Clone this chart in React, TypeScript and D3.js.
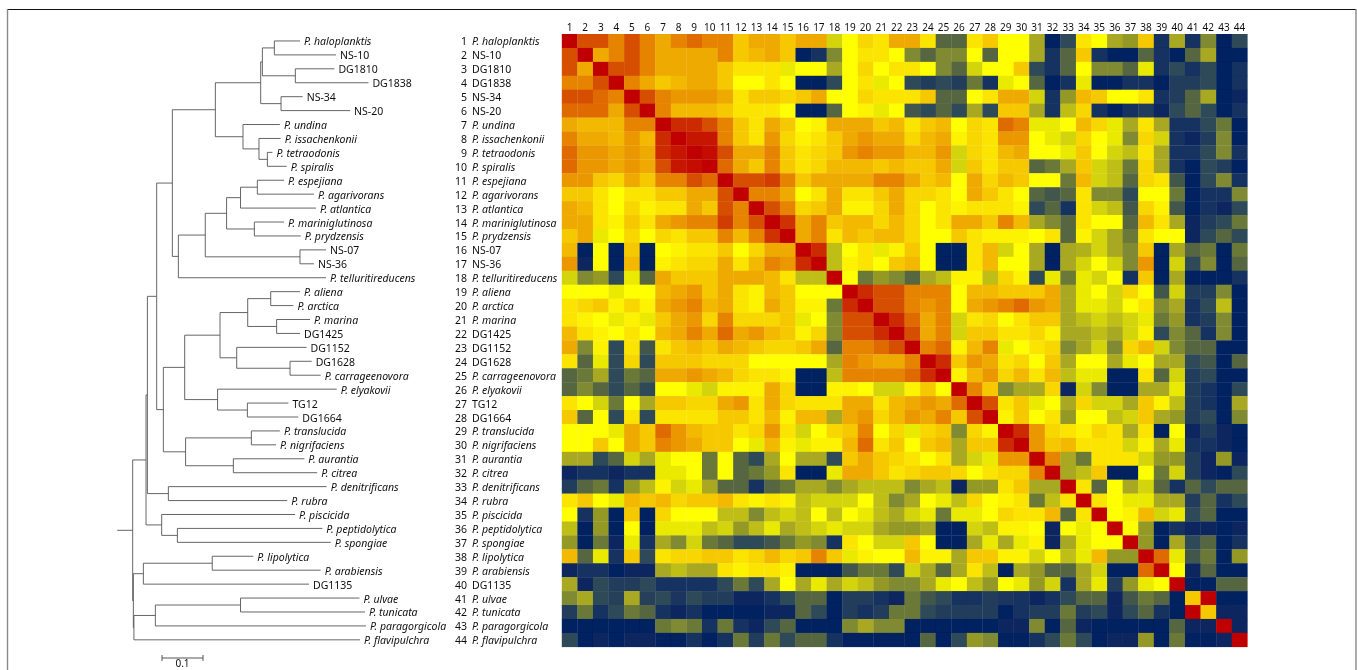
import React from "react";
import * as d3 from "d3";

const W = 1357, H = 670;

const strainNames = ["P. haloplanktis","NS-10","DG1810","DG1838","NS-34","NS-20","P. undina","P. issachenkonii","P. tetraodonis","P. spiralis","P. espejiana","P. agarivorans","P. atlantica","P. mariniglutinosa","P. prydzensis","NS-07","NS-36","P. telluritireducens","P. aliena","P. arctica","P. marina","DG1425","DG1152","DG1628","P. carrageenovora","P. elyakovii","TG12","DG1664","P. translucida","P. nigrifaciens","P. aurantia","P. citrea","P. denitrificans","P. rubra","P. piscicida","P. peptidolytica","P. spongiae","P. lipolytica","P. arabiensis","DG1135","P. ulvae","P. tunicata","P. paragorgicola","P. flavipulchra"];

// similarity level of every cell, row by row (0 = lowest, 14 = identical)
const similarity: number[][] = [
[14,12,12,11,12,11,10,11,11.5,11,11,9,10,10,9,10,10,6,7,8.5,8,10, 10,8,3,3,8,9,7,7,5,0,2,8,7,5,4.5,9,1,5,1,4,0,2],
[12,14,10,11,12,11,10,10,10,10,11,9,9.5,10,9,0,1,4,7,8,8,7, 4,3,4,4,7,3,7,7,5,1,3,9,1,0,0,3,1,0,3,5,0,0],
[12,10,14,12,12,11,10,10,10,10,9,8,8,8,6.5,7,7,5,7,8.5,7,8, 8,7,4,3,6,7,7,9,2,1,3,7,4,4,3,6.5,1,2,1,2,0,1],
[11,11,12,14,11,10,9,9.5,10,10,9,7,7,8,7,0,0,2,7,8,6.5,7, 2,1.5,2,1.5,3.5,1,6.5,7,3,0,1,6.5,0,0,1,1,0,1.5,1.5,2,0,1],
[12,12,11.5,11,14,12,11,10.5,10.5,10.5,10,8,9,9,8.5,9,10,7,7,8.5,8,8, 8,9,3,3,7,8,10,10,6,1,4.5,9.5,9,7,7,8,1,1.5,3,5,0,0.5],
[11.5,11.5,11.5,10,12,14,11,9.5,9.5,9.5,9,8,8,8,7,0,0,3,7,7.5,6.5,7, 2.5,2,3,2,5,2,9,9,5,1,5.5,8.5,1,0,1,1.5,0.5,2,3,2,0,1],
[10,9.5,9.5,9.5,11,11,14,13,13,12,11,9,8,10,9,7,7.5,10,10,10,9,9.5, 8,9,9.5,7,8.5,8,11.5,11,6.5,6.5,7,9.5,8.5,6.5,5,8,5,1,1,2,3.5,0],
[11,10,10,9.5,10.5,9.5,13,14,13.5,13.5,11,9,8,10.5,8.5,7.5,8,9,10,10.5,10,10, 8.5,9.5,10,7.5,8.5,8,10.5,10.5,7,6.5,6,8.5,7,6.5,4,8.5,6,1,0.5,1.5,4,0],
[11.5,10.5,10.5,10,10.5,10,13,13.5,14,13.7,12,10,10,11,9,8,8.5,9,10.5,11,10.5,10.5, 9.5,9.5,10.5,6,8.5,8,9.5,10,7,7,6.5,9,7,6,5.5,8,5,1,1,2,4,1],
[11.5,10.5,10.5,10,10.5,10,12,13.5,13.7,14,11.5,10,9,11,9,8,8.5,9.5,9.5,9.5,9,9.5, 9,9,10,6,9,8,9,9,3,3.5,5,9,6,5.5,3.5,8.5,5,1,0,2,1.5,0],
[10.5,10.5,9,8.5,10,9,11,11,12,11.5,14,12,12,12.5,11,9,10,10,10,10,11,11, 10,9,9.5,7,10,8.5,9.5,9,7,7,3.5,9.5,6,5.5,3,8.5,8,2.5,0,2,4,1],
[9,9,8,7,8,8,9,9,10,10,12,14,11,11,10,7,8,10,8,8,9,10, 8.5,8.5,8,7,10,9,8,7,3,2.5,3,8,4,4,2,7,7,3.5,0,1,1,4],
[10,9.5,8,7,8.5,7.5,8,8,10,9,12,11,14,12,11,8.5,9,10,7.5,7.5,8.5,10, 8.5,7,8,7.5,8,8,8,7.5,2,3,1,8,6,5.5,2.5,8.5,7.5,2.5,0,1,0.5,2],
[10,10,8,7.5,9,8,10,10.5,11,11,12.5,11,12,14,12.8,10,11,9,9.5,9.5,8.5,9.5, 8.5,7,8,10,10,9,11,9.5,5,4,3,8,7,7,3,9.5,8,5,0.5,1.5,2,3.5],
[9,10,6.5,7,8.5,7,8.5,8,9,9,11,9.5,11,12.8,14,10,11,8,9.5,9,9.5,9.5, 8.5,7,7,9,8,7.5,7.5,7.5,7,8,3,7.5,6,5,3.5,8,7,7,0.5,2,3,2],
[9.5,0,7,0,9,0,7,7.5,8,8,9,7,8.5,10,10,14,13,5.5,7,8,6.5,7.5, 9,7,0,0,8,9.5,6,7,5,0,5,5.2,6,5,4,9,0,5,3,3.5,0,3.5],
[10.5,0.5,7,0,9.5,0,7.5,8,8.5,8.5,10,8,9.5,11,10.5,13,14,5.5,7.5,8,7,9, 9.5,7,0,0,8,9.5,7,7,5,0,5,6,7,6,4,10.5,0,6,2,4,0,3],
[6,4,4.5,2,6.5,3,10,9,9,9,10,10,10,9.5,8,5.5,5.5,14,7,3.5,4.5,4, 3,5,5.5,7.5,7.5,5.5,8.5,7.5,2,6.5,3.5,6.5,6,7,1,9,0,5,0,0,0,1],
[7,7,7,6.5,7,7,9.5,10,10.5,9,10,8,7.5,9.5,9,7,7,7,14,13,12,12, 11,11,11,7,9.5,9.5,9,9,9,10,5,6.5,7,6,8.5,7,2.5,6,1.5,1.5,4,0],
[8,8.5,9,7.5,8.5,7.5,10,10.5,11,9.5,10,8,7.5,10,9,7.5,7.5,3.5,13,14,12,12, 11,10.5,11,7,10,10.5,11,11.5,10.5,10,5,6.5,6.5,6,7,8,4,5,1,2,5.5,0],
[8,7.5,7,6.5,7.5,6.5,9,10,10.5,8.5,11,8.5,8.5,8.5,9,6.5,7,4,12,12,14,13, 11.5,10,11,6,8,8.5,7,8,9,9,5,5.5,6,5.5,6,6.5,3.5,4.5,1,1.5,4,0],
[9.5,8,7.5,7,8,7,9.5,10,11,10,11.5,10,10.5,9.5,9,7.5,8.5,4,12,12,13,14, 12,10,11,6,9,9,8,8,8.5,7.5,5,5,5.5,5,6,7.5,2,4,3,1,4,0],
[10,4,7.5,2,8,2.5,8,9,9.5,9,10,9.5,9,8.5,8.5,9,10,3,11,11,11.5,12, 14,11,11.5,7.5,9.5,11,6.5,7,8,8.5,4,5,6,4,8.5,9.5,6,4,3,3,0,0],
[8,3,6.5,2,8.5,2,9,9,9,8.5,8.5,8.5,7,7,7,7,7,5,11,10.5,10,10, 11,14,13,9,10.5,10,8,8.5,7,9,5,7,7,5,6.5,7,5,5,2,2.5,0,3],
[3,3.5,5,2,3.5,3,10,10,10.5,10,9.5,8.5,8,8,7.5,0,0,5.5,11,11,11,11, 11.5,13,14,7.5,9.5,10.5,8.5,9.5,8,9.5,5.5,6.5,6.5,0,0,8,3,6,1.5,2,0,0],
[3,4,3,2,3,2,7,7,6.5,6,7.5,7.5,7.5,10,8.5,0,0,7.5,7.5,7,6,6, 7.5,9,7,14,11,9,4,5,5,8.5,0.5,6,4,0,0,5,5,6.5,1.5,1,0,2],
[8,7,6,3.5,7,5,9,9,8.5,8.5,10,10.5,8,10,8.5,8,8,8,10,10,8,9.5, 10,10.5,10,11.5,14,12,8,9,6.5,7,5,8.5,6,6,5,9,7.5,5.5,1.5,1,0,5],
[9,3,7,2,8,2,8,8,8,8,9,9,8,9.5,7.5,9.5,9.5,5,10,10.5,8.5,9.5, 10.5,10,11,9,12,14,7.5,9,7,8,4.5,7,7,5.5,6,9,5,4.5,1.5,2,0,4],
[7,7,7,6.5,10,9,11.5,10.5,9.5,9,9,8,8.5,10.5,8,6,7,8.5,9,11,7,8.5, 6.5,8.5,9,4,8.5,7.5,14,13,10.5,8.5,8,7.5,8.5,8,5,8,0,7,0.5,1.5,0.5,0],
[7,7,9,7,10,9,11,10.5,10,9,9,7,6.5,9.5,7.5,6.5,7.5,7.5,9.5,11.5,8,9, 7,9,9.5,5,9,9,13,14,10.5,9,9.5,8,8,8,6,7.5,5,6.5,1,1,0.5,0],
[5,5,2,3,6,5,6.5,7,7,3.5,7,3,2,5,7,5,5,2,9,10,9,8.5, 8,7,8,5,6,6.5,10.5,10.5,14,11,5,3.5,8,8,8,6,4.5,4.5,1.5,0.5,4.5,0.5],
[0.5,1,1,0.5,1,1,6.5,6.5,7,3.5,7,3,3.5,4.5,8,0,0,6.5,10,10,9,8, 8.5,9,9,8.5,7,8,8.5,8.5,11,14,5,5.5,9,0,0,7,3.5,6,1.5,0.5,0,2],
[1.5,3,3.5,1,4.5,5.5,7.5,6,6.5,5,3,3,1,3,3.5,5,5,4,5,5.5,5.5,5.5, 4,5,5.5,0.5,4.5,4.5,8,9,5,5,14,8,3,7,5,6,3,1,3,2,3,3],
[8,9,7,6.5,9.5,9,9.5,8.5,9,9,9.5,8,7.5,8,7.5,5.5,6,6,6,7,5.5,4, 5,7,6.5,5.5,8.5,7,7.5,8,3.5,5.5,8,14,8,7,6.5,6.5,5,5,1.5,3,1,2],
[7,1,4.5,0,9,0,8.5,7,7,7,5.5,5.5,4,5.5,6,5.5,7,5.5,7,6.5,5.5,5, 6,6.5,3.5,6.5,6.5,7,8.5,8,8,9.5,3,8,14,7,7.5,9.5,6,6.5,2,3,0,0],
[5.5,0,4.5,0,7,0,6.5,6.5,6.5,5.5,6,4.5,5.5,6.5,5,5.5,6,6.5,6,6,5,4.5, 4.5,5,0,0,6,5.5,7.5,7.5,7,0.5,7,6.5,7,14,7,4.5,0,1,0.5,0.5,0,0.5],
[4.5,0,3.5,0.5,6.5,1,5,4,6,3.5,3,2,2,2.5,3.5,4.5,4,1,8,7,6,6, 9,7,0,0,5,6.5,5,6.5,7.5,0.5,5,6.5,7,7,14,4.5,0,5,2,3,0,1],
[9.5,3,6.5,1,9,2,8,8.5,8.5,9,9,8,8.5,9.5,8.5,9,11,9,6.5,7.5,7,7, 9.5,7.5,7.5,5,9,9,7.5,7.5,6,7,5.5,6.5,9.5,4.5,4.5,14,11.5,6.5,2.5,3.5,0,4.5],
[0.5,1,1,0,0.5,0.5,5,5.5,5,5,8,7.5,8,8,7.5,0,0,0,2.5,3.5,3.5,2, 6,5,3,5,8,5.5,0,5,4.5,3,3,5,6,0,0,11.5,14,7,0.5,3,0,0],
[5,0.5,2,1.5,1.5,2,1,1,1,1,2,3.5,2,5,7,5,6.5,5,6,5.5,4.5,4, 4,5,6.5,7,5.5,4.5,7,6.5,4.5,6,1,5,6.5,1.5,4.5,6.5,7,14,0,0,3,3],
[4,5,2,1.7,5,1.7,2,1.2,2,1.5,1.5,0.5,0.5,1,2,3,3,0,1.5,1.5,1,0.5, 3.5,2.5,2,1,1,1.5,1.2,1,0.5,1,2,3,3,0.5,2.5,3.5,3,0,9,14,0,0],
[1.5,3.5,1,2,3.5,3,1,0.5,1,0,0,0,0,0.5,0.5,3,2,0,1.5,1,1.5,3.5, 3.5,2,1.5,1.5,1.5,1.5,0,1,1.5,1.5,3.5,1.5,2,0.5,2,3,1,0,14,9,0.5,0.5],
[0,0,0,0,0,0,3.5,4,3.5,1,3.5,1,0.5,2,3,0,0,0,4,5,4,4, 0,0,0,0,0,0,0.5,0.5,4,0,3,0.5,0,0,0,0,0,3,0.5,0.5,14,0.5],
[2,0,0.5,0,0.5,0.5,0,0,1,0,1,3.5,1.5,3.5,2,3,3,1,0,0,0,0, 0,3,0,2,4.5,4,0,0,1,2,3.5,2,0,0.5,0.5,4.5,0,3.5,0,0,0.5,14],
];

const levelColors = ["#002060","#163060","#2e4858","#566640","#7f8a30","#a8a820","#d4d40c","#ffff00","#fbe400","#f5c800","#eeaa00","#e68400","#d65000","#cc2c00","#c00000"];

type TreeNode = { depth: number; leaf?: number; children?: TreeNode[] };
const L = (leaf: number, depth: number): TreeNode => ({ leaf, depth });
const N = (depth: number, ...children: TreeNode[]): TreeNode => ({ depth, children });

// distance of each node from the root, in 0.001 substitutions
const phylogeny: TreeNode = N(0,
  N(32.5,
    N(35.8,
      N(58.5,
        N(96.7,
          N(201.6,
            N(312.2,
              N(316.3,
                N(345.5, L(0, 408), L(1, 496)),
                N(396.7, L(2, 492), L(3, 575))),
              N(361.8, L(4, 414.6), L(5, 530))),
            N(269,
              L(6, 359),
              N(308, L(7, 361), N(328.5, L(8, 340.7), L(9, 375.6))))),
          N(111.4,
            N(177,
              N(229,
                N(263, N(304, L(10, 369), L(11, 442)), L(12, 447)),
                N(296.7, L(13, 369), L(14, 410))),
              N(408, L(15, 471.5), L(16, 442))),
            L(17, 471.5))),
        N(74.8,
          N(126.8,
            N(213,
              N(280.5,
                N(336.6, L(18, 408), L(19, 392)),
                N(351, L(20, 432.5), L(21, 408))),
              N(253.7, L(22, 424), N(383.7, L(23, 436.6), L(24, 458.5)))),
            N(207, L(25, 497.6), N(279.7, L(26, 379.7), L(27, 404)))),
          N(129,
            N(289.4, L(28, 359), L(29, 349.6)),
            N(245.5, L(30, 418.7), L(31, 450))))),
      N(87, L(32, 473), L(33, 377))),
    N(70.7, L(34, 396), N(109, L(35, 462.6), L(36, 483)))),
  N(1.6,
    N(26, N(194, L(37, 294), L(38, 458.5)), L(39, 430)),
    N(3,
      N(55.3, N(263, L(40, 553), L(41, 566.7)), L(42, 569)),
      L(43, 554.5))));

const scaleBarLength = 0.1;

const rowKeys = d3.range(1, strainNames.length + 1);
const xCell = d3.scaleBand<number>().domain(rowKeys).range([561.8, 1247.3]);
const yCell = d3.scaleBand<number>().domain(rowKeys).range([34, 646.8]);
const color = d3.scaleLinear<string>().domain(levelColors.map((_, i) => i)).range(levelColors).interpolate(d3.interpolateRgb);
const xTree = d3.scaleLinear().domain([0, 0.1]).range([132.7, 173.7]);

const font = "'Noto Sans', sans-serif";

function isItalic(name: string) { return name.startsWith("P."); }

function layout(node: TreeNode, segs: string[], tips: { name: string; x: number; y: number }[]): number {
  const x = xTree(node.depth / 1000);
  if (node.leaf !== undefined) {
    const y = yCell(node.leaf + 1)! + yCell.bandwidth() / 2;
    tips.push({ name: strainNames[node.leaf], x, y });
    return y;
  }
  const ys = node.children!.map((c) => {
    const cy = layout(c, segs, tips);
    segs.push(`M${x},${cy}H${xTree(c.depth / 1000)}`);
    return cy;
  });
  const top = d3.min(ys)!, bot = d3.max(ys)!;
  segs.push(`M${x},${top}V${bot}`);
  return (top + bot) / 2;
}

export default function App() {
  const segs: string[] = [];
  const tips: { name: string; x: number; y: number }[] = [];
  const rootY = layout(phylogeny, segs, tips);
  const rootX = xTree(0);
  const barX0 = 162, barX1 = barX0 + (xTree(scaleBarLength) - xTree(0)), barY = 658;
  return (
    <svg width={W} height={H} viewBox={`0 0 ${W} ${H}`} style={{ position: "absolute", left: 0, top: 0, background: "#fff" }}>
      <defs>
        <filter id="soft" x="-2%" y="-2%" width="104%" height="104%"><feGaussianBlur stdDeviation="0.6" /></filter>
        <filter id="softer" x="-2%" y="-2%" width="104%" height="104%"><feGaussianBlur stdDeviation="0.25" /></filter>
      </defs>
      <path d="M7.5,9.5H1356" stroke="#111" strokeWidth={1} fill="none" />
      <path d="M7.5,9V670M1356,9V670" stroke="#888" strokeWidth={1.4} fill="none" />
      <g filter="url(#soft)">
        {similarity.map((row, r) =>
          row.map((v, c) => (
            <rect key={`${r}-${c}`} x={xCell(c + 1)} y={yCell(r + 1)} width={xCell.bandwidth() + 0.3} height={yCell.bandwidth() + 0.3} fill={color(v)} />
          ))
        )}
      </g>
      <g filter="url(#softer)" fontFamily={font} fontSize={10.5} fill="#111">
        {rowKeys.map((k) => (
          <text key={k} x={xCell(k)! + xCell.bandwidth() / 2} y={31} textAnchor="middle" fontSize={10}>{k}</text>
        ))}
        {strainNames.map((name, i) => {
          const y = yCell(i + 1)! + yCell.bandwidth() / 2 + 4.5;
          return (
            <g key={name}>
              <text x={467} y={y} textAnchor="end">{i + 1}</text>
              <text x={472} y={y} fontStyle={isItalic(name) ? "italic" : "normal"}>{name}</text>
            </g>
          );
        })}
        {tips.map((t) => (
          <text key={t.name} x={t.x + 4} y={t.y + 4.5} fontStyle={isItalic(t.name) ? "italic" : "normal"}>{t.name}</text>
        ))}
        <path d={segs.join("") + `M${rootX - 15.5},${rootY}H${rootX}`} stroke="#555" strokeWidth={0.9} fill="none" />
        <path d={`M${barX0},${barY}H${barX1}M${barX0},${barY - 3}V${barY + 3}M${barX1},${barY - 3}V${barY + 3}`} stroke="#444" strokeWidth={0.9} fill="none" />
        <text x={(barX0 + barX1) / 2} y={667} textAnchor="middle" fontSize={10}>0.1</text>
      </g>
    </svg>
  );
}
